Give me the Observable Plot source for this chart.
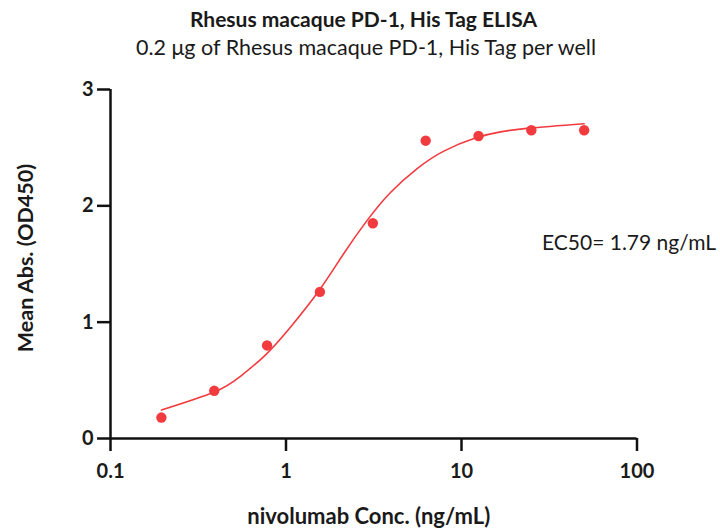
<!DOCTYPE html>
<html>
<head>
<meta charset="utf-8">
<script src="https://cdn.jsdelivr.net/npm/d3@7"></script>
<script src="https://cdn.jsdelivr.net/npm/@observablehq/plot@0.6"></script>
<style>
  html, body { margin: 0; padding: 0; background: #fff; }
  #wrap { width: 720px; height: 531px; position: relative; font-family: Lato, "Open Sans", sans-serif; color: #1a1a1a; }
  #title { position: absolute; left: 0; width: 727px; top: 6px; text-align: center; font-weight: bold; font-size: 21px; line-height: 26px; }
  #subtitle { position: absolute; left: 0; width: 732px; top: 34px; text-align: center; font-size: 21.5px; line-height: 26px; }
  #chart { position: absolute; left: 0; top: 62px; }
</style>
</head>
<body>
<div id="wrap">
  <div id="title"></div>
  <div id="subtitle"></div>
  <div id="chart"></div>
</div>
<script>
const titleText = "Rhesus macaque PD-1, His Tag ELISA";
const subtitleText = "0.2 μg of Rhesus macaque PD-1, His Tag per well";
const xLabel = "nivolumab Conc. (ng/mL)";
const yLabel = "Mean Abs. (OD450)";
const ec50Text = "EC50= 1.79 ng/mL";

// measured points
const conc = [0.195, 0.39, 0.78, 1.56, 3.125, 6.25, 12.5, 25, 50];
const od450 = [0.18, 0.41, 0.80, 1.26, 1.85, 2.56, 2.60, 2.65, 2.65];

// fitted curve
const curveConc = [0.195, 0.39, 0.55, 0.76, 1.06, 1.54, 2.13, 2.9, 3.94, 5.59, 7.93, 12.1, 16.7, 24.2, 50];
const curveOD = [0.245, 0.40, 0.535, 0.715, 0.957, 1.27, 1.588, 1.875, 2.115, 2.32, 2.47, 2.585, 2.636, 2.668, 2.706];

const xTicks = [0.1, 1, 10, 100];
const xTickLabels = ["0.1", "1", "10", "100"];
const yTicks = [0, 1, 2, 3];

document.getElementById("title").textContent = titleText;
document.getElementById("subtitle").textContent = subtitleText;

const points = conc.map((c, i) => ({c, v: od450[i]}));
const curve = curveConc.map((c, i) => ({c, v: curveOD[i]}));

const red = "#f23b3f";
const chart = Plot.plot({
  width: 720,
  height: 469,
  marginLeft: 110,
  marginRight: 83.5,
  marginTop: 27,
  marginBottom: 93,
  style: {fontFamily: "Lato, 'Open Sans', sans-serif", color: "#1a1a1a", background: "transparent"},
  x: {type: "log", domain: [0.1, 100]},
  y: {domain: [0, 3]},
  marks: [
    Plot.axisX(xTicks, {tickSize: 13, tickPadding: 12, strokeWidth: 2.5, fontSize: 20, fontWeight: "bold", tickFormat: (d) => xTickLabels[xTicks.indexOf(d)], label: null, stroke: "#111"}),
    Plot.axisY(yTicks, {tickSize: 13, tickPadding: 4, strokeWidth: 2.5, fontSize: 20, fontWeight: "bold", tickFormat: d => String(d), label: null, stroke: "#111"}),
    Plot.ruleY([yTicks[0]], {x1: xTicks[0], x2: xTicks[xTicks.length - 1], stroke: "#111", strokeWidth: 2.5}),
    Plot.ruleX([xTicks[0]], {y1: yTicks[0], y2: yTicks[yTicks.length - 1], stroke: "#111", strokeWidth: 2.5}),
    Plot.line(curve, {x: "c", y: "v", stroke: red, strokeWidth: 1.6, curve: "natural"}),
    Plot.dot(points, {x: "c", y: "v", r: 5.2, fill: red, stroke: "none"}),
    Plot.text([xLabel], {frameAnchor: "bottom", dy: 85, dx: -5, fontSize: 22, fontWeight: "bold", fill: "#1a1a1a"}),
    Plot.text([yLabel], {frameAnchor: "left", textAnchor: "middle", rotate: -90, dx: -84, dy: -6, fontSize: 21.5, fontWeight: "bold", fill: "#1a1a1a"}),
    Plot.text([ec50Text], {frameAnchor: "right", textAnchor: "end", dx: 79, dy: -21, fontSize: 21, fill: "#1a1a1a"})
  ]
});
document.getElementById("chart").appendChild(chart);
</script>
</body>
</html>
